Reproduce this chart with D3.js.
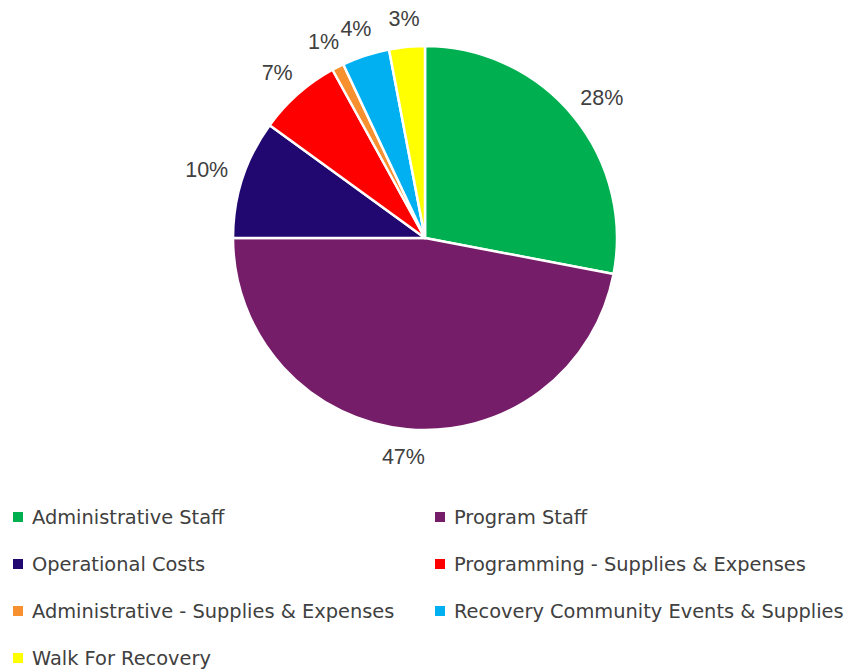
<!DOCTYPE html>
<html>
<head>
<meta charset="utf-8">
<script src="https://cdn.jsdelivr.net/npm/d3@7"></script>
<style>
  body { margin: 0; background: #fff; }
  svg { display: block; }
</style>
</head>
<body>
<svg id="chart" width="851" height="672"></svg>
<script>
"use strict";

const categories = [
   'Administrative Staff',
   'Program Staff',
   'Operational Costs',
   'Programming - Supplies & Expenses',
   'Administrative - Supplies & Expenses',
   'Recovery Community Events & Supplies',
   'Walk For Recovery'
]
const values = [28, 47, 10, 7, 1, 4, 3]
const colors = ['#00b050', '#761d6a', '#210870', '#ff0000', '#f7902f', '#00b0f0', '#ffff00']

const cx = 425, cy = 238, radius = 192
const label_gap = 16

const svg = d3.select('#chart')

const pie = d3.pie().sort(null).value(d => d)
const arcs = pie(values)

const arc = d3.arc().innerRadius(0).outerRadius(radius)

const plot = svg.append('g')
   .attr('transform', `translate(${cx},${cy})`)

plot.selectAll('path')
   .data(arcs)
   .enter().append('path')
      .attr('d', arc)
      .attr('fill', (d, i) => colors[i])
      .attr('stroke', '#fff')
      .attr('stroke-width', 2.5)
      .attr('stroke-linejoin', 'round')

// labels outside the slices, box pushed away from the rim
let labels = plot.selectAll('text')
   .data(arcs)
   .enter().append('text')
      .attr('text-anchor', 'middle')
      .attr('dominant-baseline', 'central')
      .attr('font-family', '"Liberation Sans", Arial, sans-serif')
      .attr('font-size', 21.5)
      .attr('fill', '#404040')
      .text(d => d.data + '%')

labels.each(function (d) {
   const box = this.getBBox()
   const a = (d.startAngle + d.endAngle) / 2
   const s = Math.sin(a), c = Math.cos(a)
   const r = radius + label_gap
   d3.select(this)
      .attr('x', s * r + s * box.width / 2)
      .attr('y', -c * r - c * box.height / 2)
})

// legend, two columns
const col_x = [13, 435]
const row_y = [517, 564, 611, 658]

const legend = svg.append('g')
const items = legend.selectAll('g')
   .data(categories)
   .enter().append('g')
      .attr('transform', (d, i) => `translate(${col_x[i % 2]},${row_y[Math.floor(i / 2)]})`)

items.append('rect')
   .attr('x', 0)
   .attr('y', -5)
   .attr('width', 10)
   .attr('height', 10)
   .attr('fill', (d, i) => colors[i])

items.append('text')
   .attr('x', 19)
   .attr('y', 0)
   .attr('dominant-baseline', 'central')
   .attr('font-family', '"DejaVu Sans", sans-serif')
   .attr('font-size', 19.4)
   .attr('fill', '#404040')
   .text(d => d)
</script>
</body>
</html>
